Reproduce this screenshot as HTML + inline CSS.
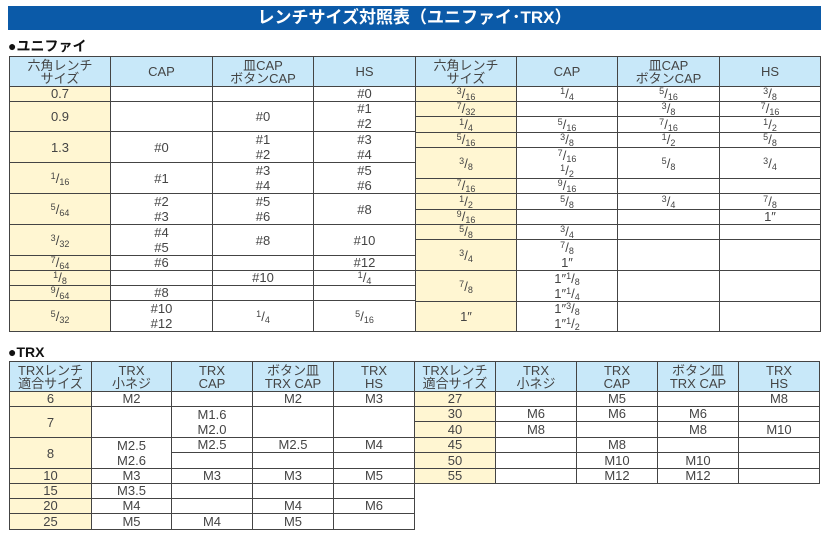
<!DOCTYPE html>
<html><head><meta charset="utf-8"><style>
body{margin:0;width:829px;height:536px;background:#fff;position:relative;overflow:hidden;font-family:"Liberation Sans","Noto Sans CJK JP",sans-serif;color:#444}
.bar{position:absolute;left:8px;top:6px;width:813px;height:24px;background:#0b5aa8;color:#fff;font-weight:bold;font-size:17px;line-height:24px;text-align:center}
.sec{position:absolute;font-weight:bold;font-size:14px;color:#111;line-height:14px}
.c,.h,.y{position:absolute;box-sizing:border-box;border:1px solid #444;display:flex;flex-direction:column;justify-content:flex-end;align-items:center;font-size:13px;line-height:15px;text-align:center;padding-bottom:0;background:#fff;white-space:nowrap}
.h{background:#c8e8f9;justify-content:center;line-height:13px;font-size:13px}
.y{background:#fff6d2}
.m{justify-content:center}
sup,sub{font-size:9px;line-height:0}
sup{vertical-align:4px}sub{vertical-align:-2px}
</style></head><body>
<div class="bar">レンチサイズ対照表（ユニファイ･TRX）</div>
<div class="sec" style="left:8px;top:39px">●ユニファイ</div>

<!-- Unifi left -->
<div class="h" style="left:9px;top:56px;width:102px;height:31px">六角レンチ<br>サイズ</div>
<div class="h" style="left:110px;top:56px;width:103px;height:31px">CAP</div>
<div class="h" style="left:212px;top:56px;width:102px;height:31px">皿CAP<br>ボタンCAP</div>
<div class="h" style="left:313px;top:56px;width:103px;height:31px">HS</div>

<div class="y" style="left:9px;top:86px;width:102px;height:16px">0.7</div>
<div class="c" style="left:110px;top:86px;width:103px;height:16px"></div>
<div class="c" style="left:212px;top:86px;width:102px;height:16px"></div>
<div class="c" style="left:313px;top:86px;width:103px;height:16px">#0</div>

<div class="y m" style="left:9px;top:101px;width:102px;height:31px">0.9</div>
<div class="c" style="left:110px;top:101px;width:103px;height:31px"></div>
<div class="c m" style="left:212px;top:101px;width:102px;height:31px">#0</div>
<div class="c" style="left:313px;top:101px;width:103px;height:31px">#1<br>#2</div>

<div class="y m" style="left:9px;top:131px;width:102px;height:32px">1.3</div>
<div class="c m" style="left:110px;top:131px;width:103px;height:32px">#0</div>
<div class="c" style="left:212px;top:131px;width:102px;height:32px">#1<br>#2</div>
<div class="c" style="left:313px;top:131px;width:103px;height:32px">#3<br>#4</div>

<div class="y m" style="left:9px;top:162px;width:102px;height:32px"><span><sup>1</sup>/<sub>16</sub></span></div>
<div class="c m" style="left:110px;top:162px;width:103px;height:32px">#1</div>
<div class="c" style="left:212px;top:162px;width:102px;height:32px">#3<br>#4</div>
<div class="c" style="left:313px;top:162px;width:103px;height:32px">#5<br>#6</div>

<div class="y m" style="left:9px;top:193px;width:102px;height:32px"><span><sup>5</sup>/<sub>64</sub></span></div>
<div class="c" style="left:110px;top:193px;width:103px;height:32px">#2<br>#3</div>
<div class="c" style="left:212px;top:193px;width:102px;height:32px">#5<br>#6</div>
<div class="c m" style="left:313px;top:193px;width:103px;height:32px">#8</div>

<div class="y m" style="left:9px;top:224px;width:102px;height:32px"><span><sup>3</sup>/<sub>32</sub></span></div>
<div class="c" style="left:110px;top:224px;width:103px;height:32px">#4<br>#5</div>
<div class="c m" style="left:212px;top:224px;width:102px;height:32px">#8</div>
<div class="c m" style="left:313px;top:224px;width:103px;height:32px">#10</div>

<div class="y" style="left:9px;top:255px;width:102px;height:16px"><span><sup>7</sup>/<sub>64</sub></span></div>
<div class="c" style="left:110px;top:255px;width:103px;height:16px">#6</div>
<div class="c" style="left:212px;top:255px;width:102px;height:16px"></div>
<div class="c" style="left:313px;top:255px;width:103px;height:16px">#12</div>

<div class="y" style="left:9px;top:270px;width:102px;height:16px"><span><sup>1</sup>/<sub>8</sub></span></div>
<div class="c" style="left:110px;top:270px;width:103px;height:16px"></div>
<div class="c" style="left:212px;top:270px;width:102px;height:16px">#10</div>
<div class="c" style="left:313px;top:270px;width:103px;height:16px"><span><sup>1</sup>/<sub>4</sub></span></div>

<div class="y" style="left:9px;top:285px;width:102px;height:16px"><span><sup>9</sup>/<sub>64</sub></span></div>
<div class="c" style="left:110px;top:285px;width:103px;height:16px">#8</div>
<div class="c" style="left:212px;top:285px;width:102px;height:16px"></div>
<div class="c" style="left:313px;top:285px;width:103px;height:16px"></div>

<div class="y m" style="left:9px;top:300px;width:102px;height:32px"><span><sup>5</sup>/<sub>32</sub></span></div>
<div class="c" style="left:110px;top:300px;width:103px;height:32px">#10<br>#12</div>
<div class="c m" style="left:212px;top:300px;width:102px;height:32px"><span><sup>1</sup>/<sub>4</sub></span></div>
<div class="c m" style="left:313px;top:300px;width:103px;height:32px"><span><sup>5</sup>/<sub>16</sub></span></div>

<!-- Unifi right -->
<div class="h" style="left:415px;top:56px;width:102px;height:31px">六角レンチ<br>サイズ</div>
<div class="h" style="left:516px;top:56px;width:102px;height:31px">CAP</div>
<div class="h" style="left:617px;top:56px;width:103px;height:31px">皿CAP<br>ボタンCAP</div>
<div class="h" style="left:719px;top:56px;width:102px;height:31px">HS</div>

<div class="y" style="left:415px;top:86px;width:102px;height:16px"><span><sup>3</sup>/<sub>16</sub></span></div>
<div class="c" style="left:516px;top:86px;width:102px;height:16px"><span><sup>1</sup>/<sub>4</sub></span></div>
<div class="c" style="left:617px;top:86px;width:103px;height:16px"><span><sup>5</sup>/<sub>16</sub></span></div>
<div class="c" style="left:719px;top:86px;width:102px;height:16px"><span><sup>3</sup>/<sub>8</sub></span></div>

<div class="y" style="left:415px;top:101px;width:102px;height:16px"><span><sup>7</sup>/<sub>32</sub></span></div>
<div class="c" style="left:516px;top:101px;width:102px;height:16px"></div>
<div class="c" style="left:617px;top:101px;width:103px;height:16px"><span><sup>3</sup>/<sub>8</sub></span></div>
<div class="c" style="left:719px;top:101px;width:102px;height:16px"><span><sup>7</sup>/<sub>16</sub></span></div>

<div class="y" style="left:415px;top:116px;width:102px;height:17px"><span><sup>1</sup>/<sub>4</sub></span></div>
<div class="c" style="left:516px;top:116px;width:102px;height:17px"><span><sup>5</sup>/<sub>16</sub></span></div>
<div class="c" style="left:617px;top:116px;width:103px;height:17px"><span><sup>7</sup>/<sub>16</sub></span></div>
<div class="c" style="left:719px;top:116px;width:102px;height:17px"><span><sup>1</sup>/<sub>2</sub></span></div>

<div class="y" style="left:415px;top:132px;width:102px;height:16px"><span><sup>5</sup>/<sub>16</sub></span></div>
<div class="c" style="left:516px;top:132px;width:102px;height:16px"><span><sup>3</sup>/<sub>8</sub></span></div>
<div class="c" style="left:617px;top:132px;width:103px;height:16px"><span><sup>1</sup>/<sub>2</sub></span></div>
<div class="c" style="left:719px;top:132px;width:102px;height:16px"><span><sup>5</sup>/<sub>8</sub></span></div>

<div class="y m" style="left:415px;top:147px;width:102px;height:32px"><span><sup>3</sup>/<sub>8</sub></span></div>
<div class="c" style="left:516px;top:147px;width:102px;height:32px"><span><sup>7</sup>/<sub>16</sub></span><span><sup>1</sup>/<sub>2</sub></span></div>
<div class="c m" style="left:617px;top:147px;width:103px;height:32px"><span><sup>5</sup>/<sub>8</sub></span></div>
<div class="c m" style="left:719px;top:147px;width:102px;height:32px"><span><sup>3</sup>/<sub>4</sub></span></div>

<div class="y" style="left:415px;top:178px;width:102px;height:16px"><span><sup>7</sup>/<sub>16</sub></span></div>
<div class="c" style="left:516px;top:178px;width:102px;height:16px"><span><sup>9</sup>/<sub>16</sub></span></div>
<div class="c" style="left:617px;top:178px;width:103px;height:16px"></div>
<div class="c" style="left:719px;top:178px;width:102px;height:16px"></div>

<div class="y" style="left:415px;top:193px;width:102px;height:17px"><span><sup>1</sup>/<sub>2</sub></span></div>
<div class="c" style="left:516px;top:193px;width:102px;height:17px"><span><sup>5</sup>/<sub>8</sub></span></div>
<div class="c" style="left:617px;top:193px;width:103px;height:17px"><span><sup>3</sup>/<sub>4</sub></span></div>
<div class="c" style="left:719px;top:193px;width:102px;height:17px"><span><sup>7</sup>/<sub>8</sub></span></div>

<div class="y" style="left:415px;top:209px;width:102px;height:16px"><span><sup>9</sup>/<sub>16</sub></span></div>
<div class="c" style="left:516px;top:209px;width:102px;height:16px"></div>
<div class="c" style="left:617px;top:209px;width:103px;height:16px"></div>
<div class="c" style="left:719px;top:209px;width:102px;height:16px">1″</div>

<div class="y" style="left:415px;top:224px;width:102px;height:16px"><span><sup>5</sup>/<sub>8</sub></span></div>
<div class="c" style="left:516px;top:224px;width:102px;height:16px"><span><sup>3</sup>/<sub>4</sub></span></div>
<div class="c" style="left:617px;top:224px;width:103px;height:16px"></div>
<div class="c" style="left:719px;top:224px;width:102px;height:16px"></div>

<div class="y m" style="left:415px;top:239px;width:102px;height:32px"><span><sup>3</sup>/<sub>4</sub></span></div>
<div class="c" style="left:516px;top:239px;width:102px;height:32px"><span><sup>7</sup>/<sub>8</sub></span><span>1″</span></div>
<div class="c" style="left:617px;top:239px;width:103px;height:32px"></div>
<div class="c" style="left:719px;top:239px;width:102px;height:32px"></div>

<div class="y m" style="left:415px;top:270px;width:102px;height:32px"><span><sup>7</sup>/<sub>8</sub></span></div>
<div class="c" style="left:516px;top:270px;width:102px;height:32px"><span>1″<sup>1</sup>/<sub>8</sub></span><span>1″<sup>1</sup>/<sub>4</sub></span></div>
<div class="c" style="left:617px;top:270px;width:103px;height:32px"></div>
<div class="c" style="left:719px;top:270px;width:102px;height:32px"></div>

<div class="y m" style="left:415px;top:301px;width:102px;height:31px">1″</div>
<div class="c" style="left:516px;top:301px;width:102px;height:31px"><span>1″<sup>3</sup>/<sub>8</sub></span><span>1″<sup>1</sup>/<sub>2</sub></span></div>
<div class="c" style="left:617px;top:301px;width:103px;height:31px"></div>
<div class="c" style="left:719px;top:301px;width:102px;height:31px"></div>

<div class="sec" style="left:8px;top:345px">●TRX</div>

<!-- TRX left -->
<div class="h" style="left:9px;top:361px;width:83px;height:31px">TRXレンチ<br>適合サイズ</div>
<div class="h" style="left:91px;top:361px;width:81px;height:31px">TRX<br>小ネジ</div>
<div class="h" style="left:171px;top:361px;width:82px;height:31px">TRX<br>CAP</div>
<div class="h" style="left:252px;top:361px;width:82px;height:31px">ボタン皿<br>TRX CAP</div>
<div class="h" style="left:333px;top:361px;width:82px;height:31px">TRX<br>HS</div>

<div class="y" style="left:9px;top:391px;width:83px;height:16px">6</div>
<div class="c" style="left:91px;top:391px;width:81px;height:16px">M2</div>
<div class="c" style="left:171px;top:391px;width:82px;height:16px"></div>
<div class="c" style="left:252px;top:391px;width:82px;height:16px">M2</div>
<div class="c" style="left:333px;top:391px;width:82px;height:16px">M3</div>

<div class="y m" style="left:9px;top:406px;width:83px;height:32px">7</div>
<div class="c" style="left:91px;top:406px;width:81px;height:32px"></div>
<div class="c" style="left:171px;top:406px;width:82px;height:32px">M1.6<br>M2.0</div>
<div class="c" style="left:252px;top:406px;width:82px;height:32px"></div>
<div class="c" style="left:333px;top:406px;width:82px;height:32px"></div>

<div class="y m" style="left:9px;top:437px;width:83px;height:32px">8</div>
<div class="c" style="left:91px;top:437px;width:81px;height:32px">M2.5<br>M2.6</div>
<div class="c" style="left:171px;top:437px;width:82px;height:16px">M2.5</div>
<div class="c" style="left:252px;top:437px;width:82px;height:16px">M2.5</div>
<div class="c" style="left:333px;top:437px;width:82px;height:16px">M4</div>
<div class="c" style="left:171px;top:452px;width:82px;height:17px"></div>
<div class="c" style="left:252px;top:452px;width:82px;height:17px"></div>
<div class="c" style="left:333px;top:452px;width:82px;height:17px"></div>

<div class="y" style="left:9px;top:468px;width:83px;height:16px">10</div>
<div class="c" style="left:91px;top:468px;width:81px;height:16px">M3</div>
<div class="c" style="left:171px;top:468px;width:82px;height:16px">M3</div>
<div class="c" style="left:252px;top:468px;width:82px;height:16px">M3</div>
<div class="c" style="left:333px;top:468px;width:82px;height:16px">M5</div>

<div class="y" style="left:9px;top:483px;width:83px;height:16px">15</div>
<div class="c" style="left:91px;top:483px;width:81px;height:16px">M3.5</div>
<div class="c" style="left:171px;top:483px;width:82px;height:16px"></div>
<div class="c" style="left:252px;top:483px;width:82px;height:16px"></div>
<div class="c" style="left:333px;top:483px;width:82px;height:16px"></div>

<div class="y" style="left:9px;top:498px;width:83px;height:16px">20</div>
<div class="c" style="left:91px;top:498px;width:81px;height:16px">M4</div>
<div class="c" style="left:171px;top:498px;width:82px;height:16px"></div>
<div class="c" style="left:252px;top:498px;width:82px;height:16px">M4</div>
<div class="c" style="left:333px;top:498px;width:82px;height:16px">M6</div>

<div class="y" style="left:9px;top:513px;width:83px;height:17px">25</div>
<div class="c" style="left:91px;top:513px;width:81px;height:17px">M5</div>
<div class="c" style="left:171px;top:513px;width:82px;height:17px">M4</div>
<div class="c" style="left:252px;top:513px;width:82px;height:17px">M5</div>
<div class="c" style="left:333px;top:513px;width:82px;height:17px"></div>

<!-- TRX right -->
<div class="h" style="left:414px;top:361px;width:82px;height:31px">TRXレンチ<br>適合サイズ</div>
<div class="h" style="left:495px;top:361px;width:82px;height:31px">TRX<br>小ネジ</div>
<div class="h" style="left:576px;top:361px;width:82px;height:31px">TRX<br>CAP</div>
<div class="h" style="left:657px;top:361px;width:82px;height:31px">ボタン皿<br>TRX CAP</div>
<div class="h" style="left:738px;top:361px;width:82px;height:31px">TRX<br>HS</div>

<div class="y" style="left:414px;top:391px;width:82px;height:16px">27</div>
<div class="c" style="left:495px;top:391px;width:82px;height:16px"></div>
<div class="c" style="left:576px;top:391px;width:82px;height:16px">M5</div>
<div class="c" style="left:657px;top:391px;width:82px;height:16px"></div>
<div class="c" style="left:738px;top:391px;width:82px;height:16px">M8</div>

<div class="y" style="left:414px;top:406px;width:82px;height:16px">30</div>
<div class="c" style="left:495px;top:406px;width:82px;height:16px">M6</div>
<div class="c" style="left:576px;top:406px;width:82px;height:16px">M6</div>
<div class="c" style="left:657px;top:406px;width:82px;height:16px">M6</div>
<div class="c" style="left:738px;top:406px;width:82px;height:16px"></div>

<div class="y" style="left:414px;top:421px;width:82px;height:17px">40</div>
<div class="c" style="left:495px;top:421px;width:82px;height:17px">M8</div>
<div class="c" style="left:576px;top:421px;width:82px;height:17px"></div>
<div class="c" style="left:657px;top:421px;width:82px;height:17px">M8</div>
<div class="c" style="left:738px;top:421px;width:82px;height:17px">M10</div>

<div class="y" style="left:414px;top:437px;width:82px;height:16px">45</div>
<div class="c" style="left:495px;top:437px;width:82px;height:16px"></div>
<div class="c" style="left:576px;top:437px;width:82px;height:16px">M8</div>
<div class="c" style="left:657px;top:437px;width:82px;height:16px"></div>
<div class="c" style="left:738px;top:437px;width:82px;height:16px"></div>

<div class="y" style="left:414px;top:452px;width:82px;height:17px">50</div>
<div class="c" style="left:495px;top:452px;width:82px;height:17px"></div>
<div class="c" style="left:576px;top:452px;width:82px;height:17px">M10</div>
<div class="c" style="left:657px;top:452px;width:82px;height:17px">M10</div>
<div class="c" style="left:738px;top:452px;width:82px;height:17px"></div>

<div class="y" style="left:414px;top:468px;width:82px;height:16px">55</div>
<div class="c" style="left:495px;top:468px;width:82px;height:16px"></div>
<div class="c" style="left:576px;top:468px;width:82px;height:16px">M12</div>
<div class="c" style="left:657px;top:468px;width:82px;height:16px">M12</div>
<div class="c" style="left:738px;top:468px;width:82px;height:16px"></div>
</body></html>
